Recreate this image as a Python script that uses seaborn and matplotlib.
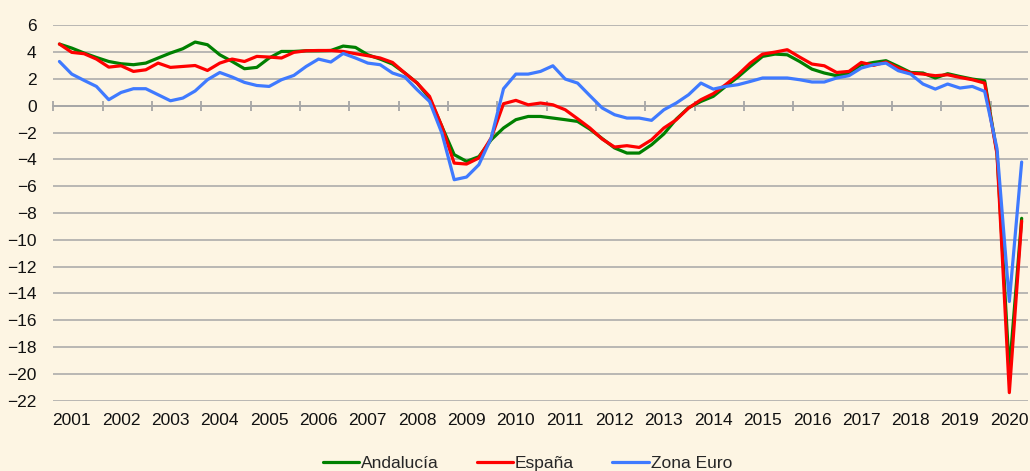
import numpy as np
import pandas as pd
import matplotlib
matplotlib.use("Agg")
import matplotlib.pyplot as plt
import seaborn as sns

# Tasa de variacion interanual del PIB, trimestral 2001T1 - 2020T3
anios = [str(a) for a in range(2001, 2021)]

andalucia = [4.6, 4.3, 3.93, 3.6,
             3.3, 3.13, 3.06, 3.18,
             3.56, 3.93, 4.25, 4.75,
             4.55, 3.8, 3.3, 2.76,
             2.86, 3.56, 4.05, 4.05,
             4.1, 4.1, 4.12, 4.45,
             4.35, 3.8, 3.48, 3.11,
             2.44, 1.69, 0.57, -1.54,
             -3.65, -4.15, -3.8, -2.54,
             -1.66, -1.04, -0.8, -0.8,
             -0.92, -1.04, -1.17, -1.75,
             -2.45, -3.15, -3.53, -3.53,
             -2.91, -2.1, -1.0, -0.15,
             0.32, 0.7, 1.44, 2.14,
             2.93, 3.68, 3.85, 3.8,
             3.3, 2.73, 2.44, 2.24,
             2.44, 3.06, 3.23, 3.36,
             2.93, 2.48, 2.44, 2.07,
             2.39, 2.18, 1.99, 1.86,
             -3.5, -19.8, -8.4]

espana = [4.6, 3.98, 3.88, 3.48,
          2.88, 2.98, 2.56, 2.68,
          3.18, 2.86, 2.93, 3.0,
          2.63, 3.18, 3.48, 3.3,
          3.68, 3.63, 3.56, 3.98,
          4.1, 4.12, 4.12, 4.05,
          3.88, 3.73, 3.56, 3.23,
          2.44, 1.69, 0.7, -1.54,
          -4.28, -4.35, -3.9, -2.4,
          0.15, 0.4, 0.07, 0.2,
          0.07, -0.3, -0.97, -1.66,
          -2.49, -3.08, -2.98, -3.11,
          -2.54, -1.66, -1.05, -0.17,
          0.45, 0.9, 1.57, 2.31,
          3.18, 3.85, 4.0, 4.18,
          3.63, 3.11, 2.98, 2.48,
          2.56, 3.23, 3.01, 3.26,
          2.81, 2.44, 2.36, 2.24,
          2.31, 2.11, 1.94, 1.69,
          -3.6, -21.4, -8.6]

zona_euro = [3.3, 2.36, 1.89, 1.44,
             0.45, 0.99, 1.27, 1.27,
             0.82, 0.37, 0.57, 1.1,
             1.94, 2.48, 2.14, 1.74,
             1.51, 1.44, 1.94, 2.26,
             2.93, 3.48, 3.26, 3.9,
             3.56, 3.18, 3.06, 2.44,
             2.14, 1.19, 0.32, -2.04,
             -5.52, -5.32, -4.4, -2.41,
             1.27, 2.36, 2.36, 2.56,
             2.98, 1.99, 1.69, 0.75,
             -0.17, -0.67, -0.92, -0.92,
             -1.09, -0.3, 0.2, 0.82,
             1.69, 1.24, 1.44, 1.57,
             1.81, 2.07, 2.07, 2.07,
             1.94, 1.77, 1.77, 2.07,
             2.24, 2.81, 3.06, 3.18,
             2.61, 2.36, 1.62, 1.24,
             1.62, 1.32, 1.44, 1.07,
             -3.2, -14.6, -4.2]

series = {"Andalucía": andalucia, "España": espana, "Zona Euro": zona_euro}
colores = {"Andalucía": "#008000", "España": "#FF0000", "Zona Euro": "#3F7AFF"}

def crear_df(series):
	dfs = []
	for nombre, valores in series.items():
		df = pd.DataFrame({"valor": valores, "serie": nombre})
		df["trimestre"] = np.arange(len(valores))
		dfs.append(df)
	return pd.concat(dfs, ignore_index=True)

datos = crear_df(series)
n = len(andalucia)

fondo = "#FDF5E3"
gris = "#A6A6A6"
sns.set_style("white", {"axes.facecolor": fondo, "figure.facecolor": fondo})
plt.rcParams["font.family"] = ["Liberation Sans", "DejaVu Sans"]

fig = plt.figure(figsize=(10.3, 4.71), dpi=100)
ax = fig.add_axes([0.0517, 0.1493, 0.9462, 0.797])

sns.lineplot(data=datos, x="trimestre", y="valor", hue="serie", palette=colores,
	linewidth=2.3, ax=ax, legend=True, zorder=3)

ax.set_xlim(-0.5, n - 0.5)
ax.set_ylim(-22, 6)
ax.set_yticks(np.arange(-22, 7, 2))
ax.yaxis.grid(True, color=gris, linewidth=1.1)
ax.set_axisbelow(True)
ax.tick_params(axis="y", length=0, pad=12, labelsize=12.5, labelcolor="#111111")
ax.set_xlabel("")
ax.set_ylabel("")

for lado in ["top", "right", "left"]:
	ax.spines[lado].set_visible(False)
ax.spines["bottom"].set_position(("data", 0))
ax.spines["bottom"].set_color(gris)
ax.spines["bottom"].set_linewidth(1.3)

# marcas de separacion de anios sobre el eje en 0
limites = np.arange(-0.5, n - 1, 4)
ax.set_xticks(limites)
ax.set_xticklabels([])
ax.tick_params(axis="x", bottom=True, direction="inout", length=7, width=1.3, color=gris)

# etiquetas de anios abajo del grafico (segundo trimestre de cada anio)
centros = [i * 4 + 1 for i in range(len(anios))]
sec = ax.secondary_xaxis(0)
sec.set_xticks(centros)
sec.set_xticklabels(anios)
sec.tick_params(length=0, pad=9, labelsize=12.5, labelcolor="#111111")
sec.spines["bottom"].set_visible(False)

handles, labels = ax.get_legend_handles_labels()
ax.get_legend().remove()
fig.legend(handles, labels, loc="center", bbox_to_anchor=(0.512, 0.016), ncol=3,
	frameon=False, fontsize=12.5, handlelength=2.1, handletextpad=0.1,
	columnspacing=2.2)

plt.savefig("out.png", dpi=100, facecolor=fondo)
